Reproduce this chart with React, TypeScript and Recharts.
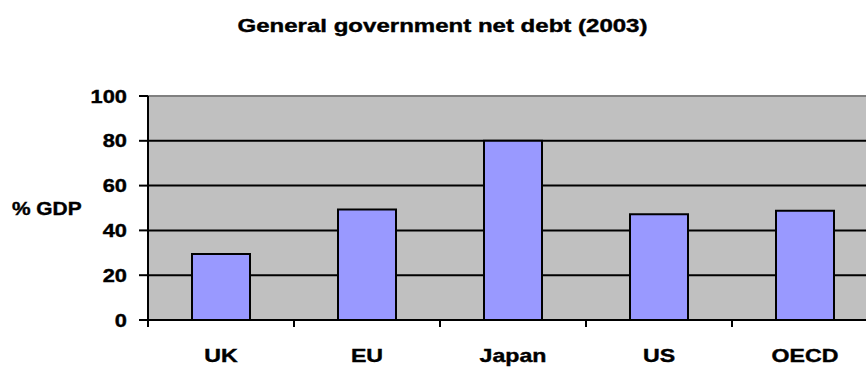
import React from 'react';
import { BarChart, Bar, XAxis, YAxis, CartesianGrid, ReferenceLine } from 'recharts';

const CATEGORIES = ['UK', 'EU', 'Japan', 'US', 'OECD'];
const NET_DEBT = [29.5, 49.3, 80, 47.2, 48.8];
const Y_TICKS = [0, 20, 40, 60, 80, 100];

const data = CATEGORIES.map((name, i) => ({ name, debt: NET_DEBT[i] }));

const FONT = '"Liberation Sans", Arial, Helvetica, sans-serif';

// shared look for every label: heavy bold, slightly widened
const textStyle = {
    fontSize: 18.5,
    fontWeight: 'bold' as const,
    fontFamily: FONT,
    fill: '#000',
    stroke: '#000',
    strokeWidth: 0.4,
};

// category labels sit in the middle, tick marks sit on the band edges
const XTick = (props: any) => {
    const { x, y, payload, index } = props;
    const half = payload && payload.offset ? payload.offset : 73;
    return (
        <g>
            {index === 0 && (
                <line x1={x - half} x2={x - half} y1={y} y2={y + 7} stroke="#000" strokeWidth={2} />
            )}
            <line x1={x + half} x2={x + half} y1={y} y2={y + 7} stroke="#000" strokeWidth={2} />
            <g transform={`translate(${x},${y + 41.5}) scale(1.25,1)`}>
                <text x={0} y={0} textAnchor="middle" style={textStyle}>
                    {payload.value}
                </text>
            </g>
        </g>
    );
};

const YTick = (props: any) => {
    const { x, y, payload } = props;
    return (
        <g transform={`translate(${x},${y}) scale(1.18,1)`}>
            <text x={0} y={0} dy="0.36em" textAnchor="end" style={textStyle}>
                {payload.value}
            </text>
        </g>
    );
};

export default function App() {
    return (
        <div style={{ position: 'absolute', left: 0, top: 0, width: 866, height: 367, overflow: 'hidden', background: '#fff' }}>
            <BarChart
                width={880}
                height={367}
                data={data}
                margin={{ top: 96, right: 2, bottom: 0, left: 0 }}
            >
                <CartesianGrid fill="#C0C0C0" vertical={false} stroke="#000" strokeWidth={2} />
                <XAxis
                    dataKey="name"
                    height={47}
                    axisLine={{ stroke: '#000', strokeWidth: 2 }}
                    tickLine={false}
                    tickSize={0}
                    tickMargin={0}
                    tick={<XTick />}
                    interval={0}
                />
                <YAxis
                    width={148}
                    domain={[0, 100]}
                    ticks={Y_TICKS}
                    axisLine={{ stroke: '#000', strokeWidth: 2 }}
                    tickLine={{ stroke: '#000', strokeWidth: 2 }}
                    tickSize={9}
                    tickMargin={12}
                    tick={<YTick />}
                />
                <ReferenceLine y={100} stroke="#808080" strokeWidth={2} />
                <Bar dataKey="debt" fill="#9999FF" stroke="#000" strokeWidth={2} barSize={58} isAnimationActive={false} />
            </BarChart>
            <svg width={866} height={367} style={{ position: 'absolute', left: 0, top: 0, pointerEvents: 'none' }}>
                <g transform="translate(442.5,32) scale(1.3,1)">
                    <text x={0} y={0} textAnchor="middle" style={textStyle}>
                        General government net debt (2003)
                    </text>
                </g>
                <g transform="translate(12,214.5) scale(1.13,1)">
                    <text x={0} y={0} style={textStyle}>
                        % GDP
                    </text>
                </g>
            </svg>
        </div>
    );
}
